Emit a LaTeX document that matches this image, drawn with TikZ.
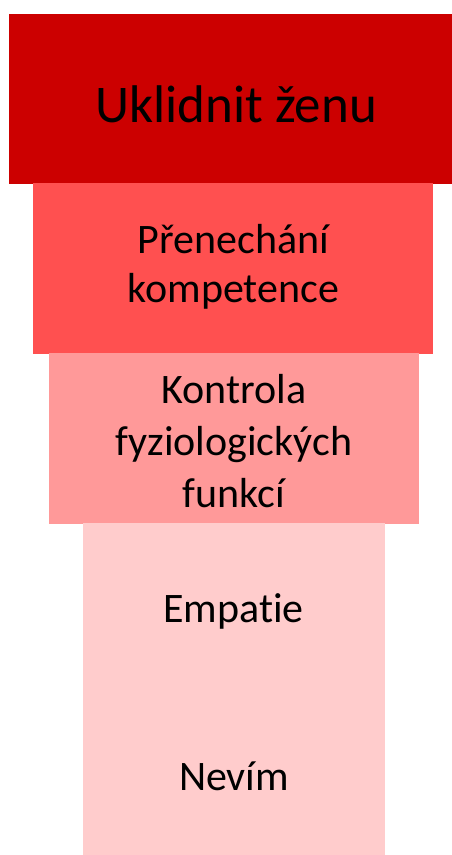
\documentclass[tikz,border=0pt]{standalone}
\usepackage{fontspec}
\setmainfont{Carlito}[Ligatures={NoCommon}]
\definecolor{lv1}{HTML}{CC0000}
\definecolor{lv2}{HTML}{FF5050}
\definecolor{lv3}{HTML}{FF9999}
\definecolor{lv4}{HTML}{FFCCCC}
\tikzset{
  big/.style={anchor=base, inner sep=0pt, font=\fontsize{53}{60}\selectfont},
  lbl/.style={anchor=base, inner sep=0pt, font=\fontsize{42}{50}\selectfont},
}
\begin{document}
\begin{tikzpicture}[x=1pt,y=-1pt]
\useasboundingbox (0,0) rectangle (452,855);
\fill[lv1] (9,14) rectangle (452,183.5);
\fill[lv2] (33,183) rectangle (433,353.5);
\fill[lv3] (49,353) rectangle (419,523.5);
\fill[lv4] (83,523) rectangle (385,693.5);
\fill[lv4] (83,693) rectangle (385,855);
\node[big] (t1) at (236,122) {Uklidnit ženu};
\node[lbl] (t2a) at (233.5,253) {Přenechání};
\node[lbl] (t2b) at (233.5,302) {kompetence};
\node[lbl] (t3a) at (234,403) {Kontrola};
\node[lbl] (t3b) at (234,455) {fyziologických};
\node[lbl] (t3c) at (234,507) {funkcí};
\node[lbl] (t4) at (233.5,622) {Empatie};
\node[lbl] (t5) at (234,790) {Nevím};
\end{tikzpicture}
\end{document}
